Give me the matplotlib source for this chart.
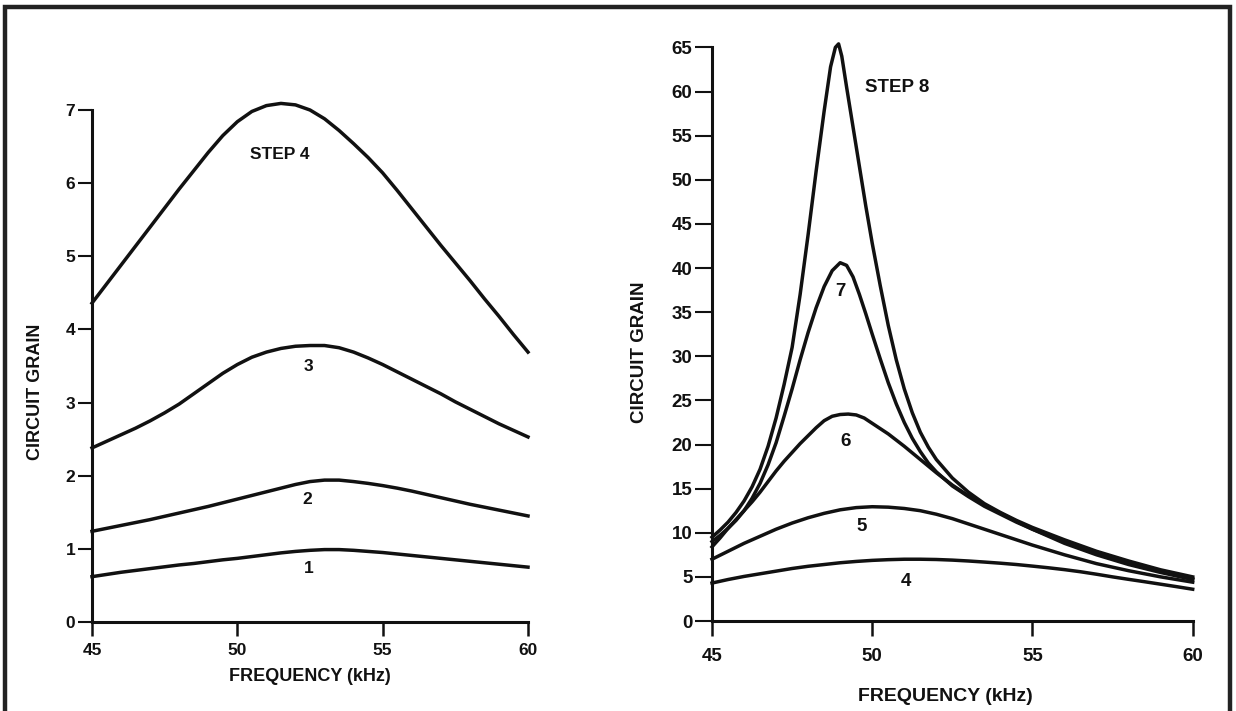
import matplotlib
matplotlib.use("Agg")
import matplotlib.pyplot as plt
from matplotlib.patches import Rectangle

plt.rcParams['font.family'] = ['Liberation Sans', 'DejaVu Sans']

# ---------------- Left panel data (steps 1-4) ----------------
left_freq_1 = [45, 45.5, 46, 46.5, 47, 47.5, 48, 48.5, 49, 49.5, 50, 50.5, 51, 51.5, 52, 52.5, 53, 53.5, 54, 54.5, 55, 55.5, 56, 57, 58, 59, 60]
left_gain_1 = [0.62, 0.65, 0.68, 0.705, 0.73, 0.755, 0.78, 0.80, 0.825, 0.85, 0.87, 0.895, 0.92, 0.945, 0.965, 0.98, 0.99, 0.99, 0.98, 0.965, 0.95, 0.93, 0.91, 0.87, 0.83, 0.79, 0.75]

left_freq_2 = [45, 45.5, 46, 46.5, 47, 47.5, 48, 48.5, 49, 49.5, 50, 50.5, 51, 51.5, 52, 52.5, 53, 53.5, 54, 54.5, 55, 55.5, 56, 57, 58, 59, 60]
left_gain_2 = [1.24, 1.28, 1.32, 1.36, 1.40, 1.445, 1.49, 1.535, 1.58, 1.63, 1.68, 1.73, 1.78, 1.83, 1.88, 1.92, 1.94, 1.94, 1.92, 1.895, 1.865, 1.83, 1.79, 1.70, 1.61, 1.53, 1.45]

left_freq_3 = [45, 45.5, 46, 46.5, 47, 47.5, 48, 48.5, 49, 49.5, 50, 50.5, 51, 51.5, 52, 52.5, 53, 53.5, 54, 54.5, 55, 55.5, 56, 56.5, 57, 57.5, 58, 58.5, 59, 59.5, 60]
left_gain_3 = [2.38, 2.47, 2.56, 2.65, 2.75, 2.86, 2.98, 3.12, 3.26, 3.40, 3.52, 3.62, 3.69, 3.74, 3.77, 3.78, 3.78, 3.75, 3.69, 3.61, 3.52, 3.42, 3.32, 3.22, 3.12, 3.01, 2.91, 2.81, 2.71, 2.62, 2.53]

left_freq_4 = [45, 45.5, 46, 46.5, 47, 47.5, 48, 48.5, 49, 49.5, 50, 50.5, 51, 51.5, 52, 52.5, 53, 53.5, 54, 54.5, 55, 55.5, 56, 56.5, 57, 57.5, 58, 58.5, 59, 59.5, 60]
left_gain_4 = [4.36, 4.62, 4.88, 5.14, 5.40, 5.66, 5.92, 6.17, 6.42, 6.65, 6.84, 6.98, 7.06, 7.09, 7.07, 7.00, 6.88, 6.72, 6.54, 6.35, 6.14, 5.90, 5.65, 5.40, 5.15, 4.91, 4.67, 4.42, 4.18, 3.93, 3.69]

left_labels = ["1", "2", "3", "STEP 4"]
left_label_x = [52.44, 52.42, 52.44, 51.47]
left_label_y = [0.73, 1.67, 3.49, 6.39]

left_yticks = [0, 1, 2, 3, 4, 5, 6, 7]

# ---------------- Right panel data (steps 4-8) ----------------
right_freq_4 = [45, 45.5, 46, 46.5, 47, 47.5, 48, 48.5, 49, 49.5, 50, 50.5, 51, 51.5, 52, 52.5, 53, 53.5, 54, 54.5, 55, 55.5, 56, 56.5, 57, 57.5, 58, 58.5, 59, 59.5, 60]
right_gain_4 = [4.3, 4.7, 5.05, 5.35, 5.65, 5.95, 6.2, 6.4, 6.6, 6.75, 6.87, 6.95, 7.0, 7.0, 6.97, 6.9, 6.8, 6.68, 6.55, 6.4, 6.22, 6.03, 5.82, 5.58, 5.3, 5.0, 4.72, 4.45, 4.17, 3.89, 3.6]

right_freq_5 = [45, 45.5, 46, 46.5, 47, 47.5, 48, 48.5, 49, 49.5, 50, 50.5, 51, 51.5, 52, 52.5, 53, 53.5, 54, 54.5, 55, 56, 57, 58, 59, 60]
right_gain_5 = [7.0, 7.9, 8.8, 9.6, 10.4, 11.1, 11.7, 12.2, 12.6, 12.85, 12.95, 12.9, 12.75, 12.5, 12.1, 11.6, 11.0, 10.4, 9.8, 9.2, 8.6, 7.5, 6.5, 5.7, 5.0, 4.4]

right_freq_6 = [45, 45.25, 45.5, 45.75, 46, 46.25, 46.5, 46.75, 47, 47.25, 47.5, 47.75, 48, 48.25, 48.5, 48.75, 49, 49.25, 49.5, 49.75, 50, 50.25, 50.5, 51, 51.5, 52, 52.5, 53, 53.5, 54, 54.5, 55, 55.5, 56, 57, 58, 59, 60]
right_gain_6 = [8.4, 9.4, 10.5, 11.5, 12.5, 13.5, 14.6, 15.8, 17.0, 18.1, 19.1, 20.1, 21.0, 21.9, 22.7, 23.2, 23.4, 23.45, 23.35, 23.0, 22.4, 21.8, 21.2, 19.8, 18.3, 16.8, 15.4, 14.2, 13.2, 12.2, 11.3, 10.4, 9.6, 8.8, 7.5, 6.4, 5.5, 4.7]

right_freq_7 = [45, 45.25, 45.5, 45.75, 46, 46.25, 46.5, 46.75, 47, 47.25, 47.5, 47.75, 48, 48.25, 48.5, 48.75, 49.0, 49.2, 49.4, 49.6, 49.8, 50, 50.25, 50.5, 50.75, 51, 51.25, 51.5, 51.75, 52, 52.5, 53, 53.5, 54, 54.5, 55, 55.5, 56, 57, 58, 59, 60]
right_gain_7 = [9.0, 9.7, 10.5, 11.4, 12.5, 13.9, 15.6, 17.7, 20.2, 23.2, 26.3, 29.6, 32.7, 35.5, 37.9, 39.7, 40.6, 40.3, 39.0, 37.0, 34.8, 32.5, 29.7, 27.0, 24.6, 22.5, 20.7, 19.2, 17.9, 16.9, 15.3, 14.1, 13.0, 12.1, 11.2, 10.4, 9.7, 9.0, 7.8, 6.7, 5.7, 4.8]

right_freq_8 = [45, 45.25, 45.5, 45.75, 46, 46.25, 46.5, 46.75, 47, 47.25, 47.5, 47.75, 48.0, 48.25, 48.5, 48.7, 48.85, 48.95, 49.05, 49.2, 49.4, 49.6, 49.8, 50.0, 50.25, 50.5, 50.75, 51.0, 51.25, 51.5, 51.75, 52, 52.5, 53, 53.5, 54, 54.5, 55, 55.5, 56, 57, 58, 59, 60]
right_gain_8 = [9.5, 10.3, 11.2, 12.3, 13.6, 15.2, 17.2, 19.8, 23.0, 26.8, 31.0, 37.0, 43.8, 51.0, 57.8, 62.8, 65.0, 65.4, 64.0, 60.5, 56.0, 51.5, 47.0, 42.8, 38.0, 33.5, 29.6, 26.3, 23.6, 21.4, 19.7, 18.3, 16.2, 14.6, 13.3, 12.3, 11.4, 10.6, 9.9, 9.2, 7.9, 6.8, 5.8, 5.0]

right_labels = ["4", "5", "6", "7", "STEP 8"]
right_label_x = [51.05, 49.67, 49.18, 49.02, 50.79]
right_label_y = [4.46, 10.7, 20.3, 37.3, 60.5]

right_yticks = list(range(0, 70, 5))
xticks = [45, 50, 55, 60]

INK = "#111111"

fig = plt.figure(figsize=(12.36, 7.11), dpi=100)
fig.patch.set_facecolor("white")

# outer frame
fig.add_artist(Rectangle((5 / 1236, -0.05), (1230 - 5) / 1236, (711 - 7) / 711 + 0.05,
                         transform=fig.transFigure, fill=False, lw=3.2,
                         edgecolor="#222222", clip_on=False))


def style_axes(ax, yticks, ylim, tick_fs, ytick_len, xtick_len, xpad):
    ax.set_xlim(45, 60)
    ax.set_ylim(*ylim)
    for s in ["top", "right"]:
        ax.spines[s].set_visible(False)
    for s in ["left", "bottom"]:
        ax.spines[s].set_linewidth(2.2)
        ax.spines[s].set_color(INK)
    ax.set_xticks(xticks)
    ax.set_yticks(yticks)
    ax.tick_params(axis="x", direction="out", length=xtick_len, width=1.8, color=INK,
                   labelsize=tick_fs, pad=xpad)
    ax.tick_params(axis="y", direction="out", length=ytick_len, width=1.5, color=INK,
                   labelsize=tick_fs, pad=2)
    for lab in ax.get_xticklabels() + ax.get_yticklabels():
        lab.set_fontweight("bold")
        lab.set_color(INK)


# ---------------- Left panel ----------------
axL = fig.add_axes([92 / 1236, 1 - 622 / 711, (528 - 92) / 1236, (622 - 110) / 711])
style_axes(axL, left_yticks, (0, 7), 12.5, 10, 10, 5)
for fx, gy in [(left_freq_1, left_gain_1), (left_freq_2, left_gain_2),
               (left_freq_3, left_gain_3), (left_freq_4, left_gain_4)]:
    axL.plot(fx, gy, color=INK, lw=2.5, clip_on=False, solid_joinstyle="round")
for t, x, y in zip(left_labels, left_label_x, left_label_y):
    axL.text(x, y, t, ha="center", va="center", fontsize=12.5, fontweight="bold", color=INK)
axL.set_ylabel("CIRCUIT GRAIN", fontsize=13, fontweight="bold", color=INK)
axL.yaxis.set_label_coords(-0.11, 0.45)
axL.set_xlabel("FREQUENCY (kHz)", fontsize=13, fontweight="bold", color=INK)
axL.xaxis.set_label_coords(0.5, -0.09)

# ---------------- Right panel ----------------
axR = fig.add_axes([712 / 1236, 1 - 621 / 711, (1192.7 - 712) / 1236, (621 - 47.4) / 711])
style_axes(axR, right_yticks, (0, 65), 13.5, 12, 11, 8.5)
for fx, gy in [(right_freq_4, right_gain_4), (right_freq_5, right_gain_5),
               (right_freq_6, right_gain_6), (right_freq_7, right_gain_7),
               (right_freq_8, right_gain_8)]:
    axR.plot(fx, gy, color=INK, lw=2.5, clip_on=False, solid_joinstyle="round")
for t, x, y in zip(right_labels, right_label_x, right_label_y):
    axR.text(x, y, t, ha="center", va="center", fontsize=13.5, fontweight="bold", color=INK)
axR.set_ylabel("CIRCUIT GRAIN", fontsize=13.5, fontweight="bold", color=INK)
axR.yaxis.set_label_coords(-0.133, 0.469)
axR.set_xlabel("FREQUENCY (kHz)", fontsize=14, fontweight="bold", color=INK)
axR.xaxis.set_label_coords(0.485, -0.117)

fig.savefig("out.png", dpi=100, facecolor="white")
